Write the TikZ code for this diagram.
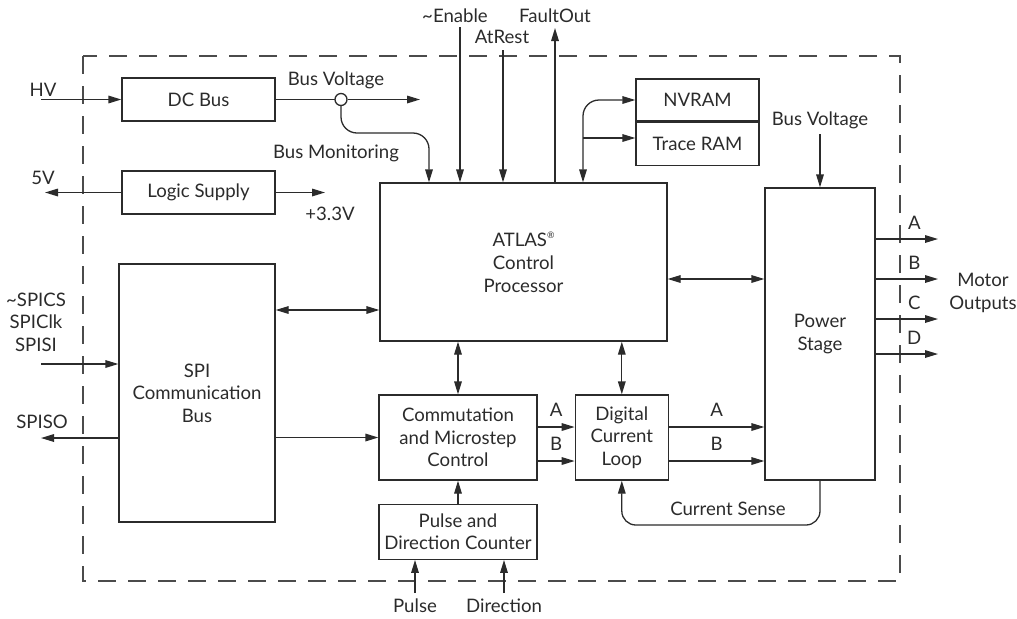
\documentclass[tikz,border=0pt]{standalone}
\usepackage{fontspec}
\setmainfont{Lato}
\usetikzlibrary{positioning,arrows.meta}
\definecolor{ink}{HTML}{2B2B2B}
\tikzset{
  block/.style={draw=ink, inner sep=0pt, align=center},
  lbl/.style={inner sep=1pt, align=center},
  >={Triangle[length=6.5pt,width=3.8pt]},
}

\begin{document}
\begin{tikzpicture}[x=0.5pt, y=-0.5pt, line width=0.65pt, color=ink,
  font=\fontsize{9.3}{11.3}\selectfont]
\useasboundingbox (0,0) rectangle (1017,618);
\draw[dash pattern=on 9pt off 6pt, color=ink!85] (83,56) rectangle (900,581);

\node[block, minimum width=76.5pt, minimum height=21.5pt] (dcbus) at (198.5,99.5) {DC Bus};
\node[block, minimum width=76.5pt, minimum height=21.5pt] (logic) at (198.5,192.5) {Logic Supply};
\node[block, minimum width=78pt, minimum height=129pt] (spi) at (197,393) {SPI\\Communication\\Bus};
\node[block, minimum width=143.5pt, minimum height=79pt] (atlas) at (523.5,262) {ATLAS\raisebox{0.9ex}{\fontsize{4.5}{5}\selectfont ®}\\Control\\Processor};
\node[block, minimum width=61.5pt, minimum height=21pt] (nvram) at (697.5,100) {NVRAM};
\node[block, minimum width=61.5pt, minimum height=21.5pt, below=0pt of nvram] (trace) {Trace RAM};
\node[block, minimum width=55pt, minimum height=146pt] (power) at (820,334) {Power\\Stage};
\node[block, minimum width=79pt, minimum height=42.5pt] (comm) at (458,437.5) {Commutation\\and Microstep\\Control};
\node[block, minimum width=46.5pt, minimum height=42.5pt, right=18.5pt of comm] (dcl) {Digital\\Current\\Loop};
\node[block, minimum width=79pt, minimum height=27.5pt, below=11.5pt of comm] (pdc) {Pulse and\\Direction Counter};

\coordinate (hvin) at (41,99.5);
\coordinate (bvout) at (420,99.5);
\coordinate (mon) at (429,133);
\coordinate (fivev) at (45,192.5);
\coordinate (v33) at (325,192.5);
\coordinate (enin) at (460,27);
\coordinate (arin) at (503,50);
\coordinate (foout) at (555,28);
\coordinate (mem) at (583,138);
\coordinate (bvin) at (820,134);
\coordinate (lk) at (716,279);
\coordinate (spiin) at (41,364);
\coordinate (spiso) at (41,438);
\coordinate (sa) at (330,310);
\coordinate (pin) at (415,593);
\coordinate (din) at (504,593);
\coordinate (cs) at (720,525);

\draw[->] (hvin) -- (dcbus.west);
\draw (dcbus.east) -- (341,99.5);
\node[circle, draw, fill=white, inner sep=0pt, minimum size=6pt] (tap) at (341,99.5) {};
\draw[->] (tap) -- (bvout);
\draw[->, rounded corners=8pt] (tap.south) |- (mon) -- (atlas.north -| mon);
\draw[->] (logic.west) -- (fivev);
\draw[->] (logic.east) -- (v33);

\draw[->] (enin) -- (atlas.north -| enin);
\draw[->] (arin) -- (atlas.north -| arin);
\draw[->] (atlas.north -| foout) -- (foout);
\draw[<->, rounded corners=8pt] (atlas.north -| mem) |- (nvram.west);
\draw[->] (mem) -- (trace.west |- mem);

\draw[->] (bvin) -- (power.north);
\draw[<->] (atlas.east |- lk) -- (power.west |- lk);
\foreach \y/\m in {239/A,279/B,319/C,354/D}{
  \coordinate (out\m) at (938,\y);
  \draw[->] (power.east |- out\m) -- node[lbl, above=3.5pt, pos=0.62] (lbl\m) {\m} (out\m);
}

\draw[->] (spiin) -- (spi.west |- spiin);
\draw[->] (spi.west |- spiso) -- (spiso);
\draw[<->] (spi.east |- sa) -- (atlas.west |- sa);
\draw[->] (spi.east |- comm.west) -- (comm.west);
\draw[<->] (atlas.south -| comm.north) -- (comm.north);
\draw[<->] (atlas.south -| dcl.north) -- (dcl.north);
\foreach \y/\m in {427/A,461/B}{
  \coordinate (ph\m) at (555,\y);
  \draw[->] (comm.east |- ph\m) -- node[lbl, above=4pt] (cm\m) {\m} (dcl.west |- ph\m);
  \draw[->] (dcl.east |- ph\m) -- node[lbl, above=4pt] (dp\m) {\m} (power.west |- ph\m);
}
\draw[->] (pdc) -- (comm);
\draw[->] (pin) -- (pdc.south -| pin);
\draw[->] (din) -- (pdc.south -| din);
\draw[->, rounded corners=7pt] (power.south) |- (cs) -| (dcl.south);

\node[lbl] (hvlbl) at (43,90) {HV};
\node[lbl] (bvlbl) at (336,80) {Bus Voltage};
\node[lbl] (monlbl) at (336,153) {Bus Monitoring};
\node[lbl] (fivelbl) at (43,178) {5V};
\node[lbl] (v33lbl) at (330,214) {+3.3V};
\node[lbl] (enlbl) at (455,16) {\textasciitilde Enable};
\node[lbl] (arlbl) at (502,37) {AtRest};
\node[lbl] (folbl) at (555,16) {FaultOut};
\node[lbl] (bvrlbl) at (820,120) {Bus Voltage};
\node[lbl] (motor) at (983,293) {Motor\\Outputs};
\node[lbl] (spilbl) at (36,322) {\textasciitilde SPICS\\SPIClk\\SPISI};
\node[lbl] (sisolbl) at (42,422) {SPISO};
\node[lbl] (cslbl) at (728,509) {Current Sense};
\node[lbl] (plbl) at (415,606) {Pulse};
\node[lbl] (dlbl) at (504,606) {Direction};
\end{tikzpicture}
\end{document}
